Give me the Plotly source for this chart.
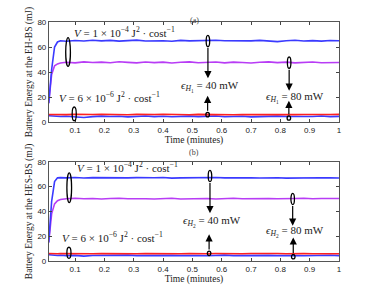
import numpy as np
import plotly.graph_objects as go
from plotly.subplots import make_subplots

# time axis (minutes)
time_min = [0.01, 0.02, 0.03, 0.04, 0.05,
            0.07, 0.10, 0.13, 0.16, 0.19, 0.22, 0.25, 0.28, 0.31, 0.34,
            0.37, 0.40, 0.43, 0.46, 0.49, 0.52, 0.55, 0.58, 0.61, 0.64,
            0.67, 0.70, 0.73, 0.76, 0.79, 0.82, 0.85, 0.88, 0.91, 0.94,
            0.97, 1.00]

# Panel (a): EH-BS
a_blue_hi = [15, 42, 60, 64, 65,
             64.6, 65.2, 64.8, 65.4, 64.9, 65.3, 64.7, 65.1, 65.5, 64.8,
             65.2, 65.0, 64.6, 65.3, 64.9, 65.1, 64.7, 65.4, 65.0, 64.8,
             65.2, 64.9, 65.3, 64.5, 64.3, 65.0, 65.4, 64.8, 65.1, 64.7,
             65.2, 65.0]
a_magenta = [15, 38, 45, 46.5, 47.2,
             47.8, 47.3, 48.1, 47.6, 47.9, 47.4, 48.2, 47.7, 47.3, 48.0,
             47.5, 47.9, 47.2, 47.8, 48.1, 47.4, 47.7, 48.0, 47.3, 47.9,
             47.6, 47.2, 47.8, 48.1, 47.5, 47.9, 47.3, 47.7, 48.0, 47.4,
             47.8, 47.6]
a_red = [6.0, 5.9, 6.1, 5.8, 6.0,
         5.9, 6.1, 5.8, 6.0, 6.2, 5.9, 6.0, 5.8, 6.1, 5.9,
         6.0, 6.2, 5.9, 6.0, 5.8, 6.1, 5.9, 6.0, 6.1, 5.8,
         6.0, 5.9, 6.1, 6.0, 5.8, 6.1, 5.9, 6.0, 6.2, 5.9,
         6.0, 6.1]
a_blue_lo = [5.0, 4.8, 4.6, 4.5, 4.4,
             4.6, 4.2, 3.6, 4.3, 4.7, 4.4, 4.6, 4.1, 4.5, 4.8,
             4.3, 4.6, 4.2, 4.5, 4.7, 4.3, 4.4, 4.8, 4.2, 4.5,
             4.6, 4.1, 4.5, 4.3, 4.7, 4.4, 4.2, 4.6, 4.4, 4.8,
             4.3, 4.5]

# Panel (b): HES-BS
b_blue_hi = [15, 48, 64, 67, 67.2,
             67.0, 67.3, 66.9, 67.2, 67.1, 66.8, 67.3, 67.0, 67.2, 66.9,
             67.1, 67.3, 66.8, 67.0, 67.2, 66.9, 67.1, 67.3, 67.0, 66.8,
             67.2, 67.0, 66.9, 67.3, 67.1, 66.8, 67.0, 67.2, 66.9, 67.1,
             67.0, 66.9]
b_magenta = [15, 38, 46, 48.5, 49.5,
             50.2, 50.5, 50.1, 50.4, 50.0, 50.3, 50.6, 50.1, 50.4, 50.2,
             49.9, 50.3, 50.5, 50.0, 50.3, 50.1, 50.4, 49.9, 50.2, 50.5,
             50.1, 50.3, 50.0, 50.4, 50.2, 50.0, 50.3, 50.5, 50.1, 50.4,
             50.2, 50.3]
b_red = [6.0, 5.8, 6.1, 5.9, 6.0,
         5.9, 6.1, 6.0, 5.8, 6.1, 5.9, 6.2, 6.0, 5.8, 6.1,
         5.9, 6.0, 6.1, 5.8, 6.0, 6.2, 5.9, 6.0, 5.8, 6.1,
         5.9, 6.0, 6.1, 5.9, 6.0, 5.8, 6.1, 6.0, 5.9, 6.1,
         6.0, 5.9]
b_blue_lo = [5.0, 4.7, 4.5, 4.4, 4.6,
             4.3, 4.5, 3.9, 4.4, 4.6, 4.2, 4.5, 4.7, 4.3, 4.4,
             4.6, 4.2, 4.5, 4.3, 4.6, 4.4, 4.2, 4.5, 4.7, 4.3,
             4.4, 4.6, 4.2, 4.5, 4.3, 4.6, 4.4, 4.2, 4.5, 4.4,
             4.6, 4.3]

x_ticks = [0.1, 0.2, 0.3, 0.4, 0.5, 0.6, 0.7, 0.8, 0.9, 1]
x_tick_labels = ["0.1", "0.2", "0.3", "0.4", "0.5", "0.6", "0.7", "0.8", "0.9", "1"]
y_ticks = [0, 20, 40, 60, 80]

BLUE = "#3a3aff"
MAG = "#b83cf5"
RED = "#ff2020"

fig = make_subplots(rows=2, cols=1, vertical_spacing=0.1660)

panels = [
    (1, a_blue_hi, a_magenta, a_red, a_blue_lo),
    (2, b_blue_hi, b_magenta, b_red, b_blue_lo),
]
for row, bh, mg, rd, bl in panels:
    for ys, col in [(bl, BLUE), (rd, RED), (mg, MAG), (bh, BLUE)]:
        fig.add_trace(go.Scatter(x=time_min, y=ys, mode="lines",
                                 line=dict(color=col, width=1.6),
                                 showlegend=False, hoverinfo="skip"),
                      row=row, col=1)

axis_common = dict(range=[0.011, 1], tickvals=x_ticks, ticktext=x_tick_labels,
                   ticks="inside", ticklen=3, tickcolor="#444", mirror="ticks",
                   showline=True, linecolor="#555", linewidth=1.2,
                   showgrid=False, zeroline=False,
                   tickfont=dict(family="Liberation Sans", size=8, color="#222"))
yaxis_common = dict(range=[0, 80], tickvals=y_ticks,
                    ticks="inside", ticklen=3, tickcolor="#444", mirror="ticks",
                    showline=True, linecolor="#555", linewidth=1.2,
                    showgrid=False, zeroline=False,
                    tickfont=dict(family="Liberation Sans", size=8, color="#222"))

serif = dict(family="Liberation Serif", size=9.5, color="#222")

fig.update_xaxes(**axis_common)
fig.update_yaxes(**yaxis_common)
fig.update_layout(
    xaxis=dict(domain=[0, 1], title=dict(text="Time (minutes)", font=serif, standoff=0)),
    xaxis2=dict(domain=[0, 1], title=dict(text="Time (minutes)", font=serif, standoff=0)),
    yaxis=dict(domain=[0.5816, 1], title=dict(text="Battery Energy at the EH-BS (mJ)", font=serif, standoff=3)),
    yaxis2=dict(domain=[0, 0.4155], title=dict(text="Battery Energy at the HES-BS (mJ)", font=serif, standoff=3)),
)

shapes = []
annotations = []

def ell(xr, yr, xc, yc, w, h):
    shapes.append(dict(type="circle", xref=xr, yref=yr, x0=xc - w / 2, x1=xc + w / 2,
                       y0=yc - h / 2, y1=yc + h / 2,
                       line=dict(color="black", width=1.3)))

def arrow(xr, yr, x, y_from, y_to):
    annotations.append(dict(x=x, y=y_to, ax=x, ay=y_from, xref=xr, yref=yr,
                            axref=xr, ayref=yr, text="", showarrow=True,
                            arrowhead=2, arrowsize=1.2, arrowwidth=1.2,
                            arrowcolor="black"))

def label(xr, yr, x, y, txt):
    annotations.append(dict(x=x, y=y, xref=xr, yref=yr, text=txt, showarrow=False,
                            font=dict(family="Liberation Serif", size=11, color="#222")))

V1 = "<i>V</i> = 1 × 10<sup>−4</sup> J<sup>2</sup> · cost<sup>−1</sup>"
V2 = "<i>V</i> = 6 × 10<sup>−6</sup> J<sup>2</sup> · cost<sup>−1</sup>"

# Panel (a)
ell("x", "y", 0.076, 56, 0.016, 23)
ell("x", "y", 0.097, 6.5, 0.014, 11)
label("x", "y", 0.27, 72, V1)
label("x", "y", 0.216, 19.8, V2)
ell("x", "y", 0.553, 64.8, 0.012, 9)
arrow("x", "y", 0.553, 60.5, 35)
label("x", "y", 0.56, 28.5, "<i>ϵ</i><sub><i>H</i><sub>1</sub></sub> = 40 mW")
ell("x", "y", 0.552, 5.9, 0.012, 3.5)
arrow("x", "y", 0.552, 7.7, 21)
ell("x", "y", 0.83, 47.5, 0.012, 9)
arrow("x", "y", 0.83, 43, 25)
label("x", "y", 0.85, 19.5, "<i>ϵ</i><sub><i>H</i><sub>1</sub></sub> = 80 mW")
ell("x", "y", 0.829, 3.2, 0.012, 3.5)
arrow("x", "y", 0.829, 5.0, 17)

# Panel (b)
ell("x2", "y2", 0.08, 59, 0.016, 24)
ell("x2", "y2", 0.079, 6.6, 0.014, 9)
label("x2", "y2", 0.277, 75.5, V1)
label("x2", "y2", 0.226, 19, V2)
ell("x2", "y2", 0.56, 68.5, 0.012, 9)
arrow("x2", "y2", 0.56, 64, 38.5)
label("x2", "y2", 0.566, 32, "<i>ϵ</i><sub><i>H</i><sub>2</sub></sub> = 40 mW")
ell("x2", "y2", 0.557, 6.2, 0.012, 3.5)
arrow("x2", "y2", 0.557, 8.0, 21.5)
ell("x2", "y2", 0.842, 50, 0.012, 9)
arrow("x2", "y2", 0.842, 45.5, 28.5)
label("x2", "y2", 0.85, 23.6, "<i>ϵ</i><sub><i>H</i><sub>2</sub></sub> = 80 mW")
ell("x2", "y2", 0.844, 3.5, 0.012, 3.5)
arrow("x2", "y2", 0.844, 5.3, 19)

annotations.append(dict(x=0.5, y=1.033, xref="paper", yref="paper", text="(a)",
                        showarrow=False, font=dict(family="Liberation Serif", size=8, color="#444")))
annotations.append(dict(x=0.5, y=0.452, xref="paper", yref="paper", text="(b)",
                        showarrow=False, font=dict(family="Liberation Serif", size=8, color="#444")))

fig.update_layout(
    width=374, height=294,
    margin=dict(l=49, r=35, t=22, b=33),
    paper_bgcolor="white", plot_bgcolor="white",
    shapes=shapes, annotations=annotations,
)

fig.write_html("out.html", config={"displayModeBar": False},
               post_script="document.body.style.margin='0px';document.body.style.overflow='hidden';")
